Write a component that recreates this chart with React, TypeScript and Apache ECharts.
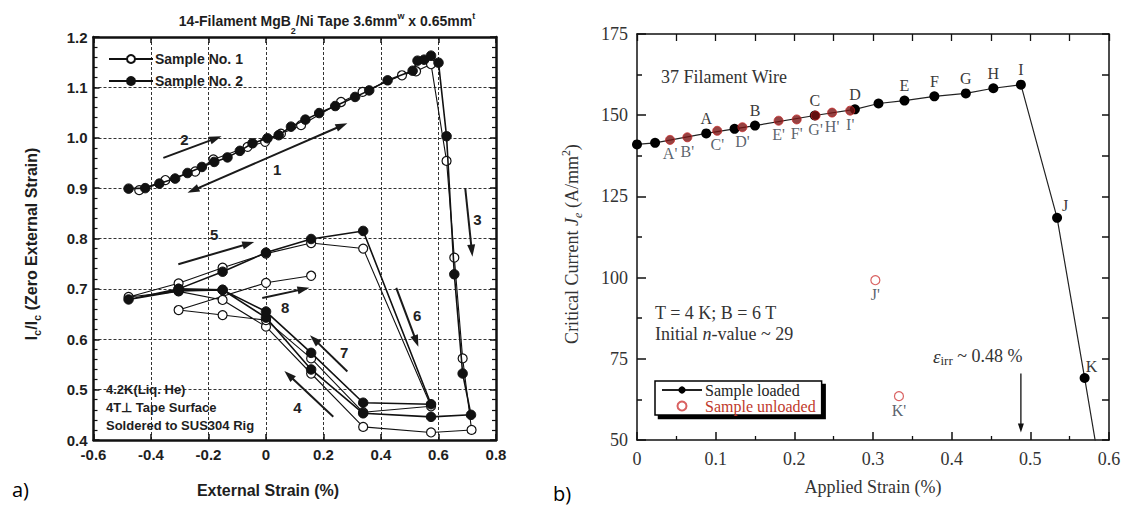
import React, { useEffect, useRef } from "react";
import * as echarts from "echarts";

// ---------- Panel a) 14-filament MgB2/Ni tape ----------
const S1_STRAIN = [
  -0.441, -0.35, -0.246, -0.183, -0.064, -0.003, 0.052, 0.122, 0.261, 0.336, 0.473, 0.522, 0.574,
  0.628, 0.655, 0.684, 0.715,
  0.574, 0.338, 0.157, 0, -0.151, -0.304, -0.478,
  -0.304, -0.151, 0, 0.157, 0.338,
  0.574,
  0.338, 0.157, 0, -0.151, -0.304,
  0, 0.157,
];
const S1_IC = [
  0.896, 0.916, 0.933, 0.957, 0.982, 0.992, 1.008, 1.025, 1.071, 1.091, 1.124, 1.132, 1.146,
  0.954, 0.762, 0.562, 0.42,
  0.415, 0.426, 0.532, 0.625, 0.678, 0.695, 0.684,
  0.711, 0.742, 0.77, 0.791, 0.78,
  0.467,
  0.455, 0.562, 0.638, 0.648, 0.658,
  0.712, 0.726,
];
const S2_STRAIN = [
  -0.478, -0.42, -0.371, -0.316, -0.273, -0.223, -0.18, -0.134, -0.091, -0.047, 0.005, 0.044, 0.087,
  0.137, 0.185, 0.241, 0.31, 0.359, 0.423, 0.51, 0.527, 0.55, 0.574, 0.6,
  0.628, 0.655, 0.684, 0.713,
  0.574, 0.338, 0.157, 0, -0.151, -0.304, -0.478,
  -0.304, -0.151, 0, 0.157, 0.338,
  0.574,
  0.338, 0.157, 0, -0.151, -0.304,
];
const S2_IC = [
  0.899, 0.9, 0.909, 0.919, 0.93, 0.942, 0.952, 0.961, 0.974, 0.989, 0.999, 1.005, 1.022,
  1.036, 1.049, 1.063, 1.081, 1.094, 1.114, 1.133, 1.153, 1.155, 1.163, 1.149,
  1.003, 0.729, 0.532, 0.45,
  0.446, 0.453, 0.54, 0.643, 0.698, 0.696, 0.679,
  0.7, 0.734, 0.772, 0.799, 0.815,
  0.471,
  0.474, 0.573, 0.655, 0.698, 0.7,
];

// ---------- Panel b) 37 filament wire ----------
const B_LOADED_STRAIN = [0, 0.023, 0.088, 0.124, 0.15, 0.226, 0.277, 0.307, 0.34, 0.378, 0.418, 0.453, 0.488, 0.534, 0.569, 0.59];
const B_LOADED_JE = [141.0, 141.5, 144.4, 145.8, 146.8, 149.9, 151.8, 153.6, 154.5, 155.8, 156.7, 158.3, 159.4, 118.4, 69.1, 39];
const B_LOADED_LABELS = ["", "", "A", "", "B", "C", "D", "", "E", "F", "G", "H", "I", "J", "K", ""];
const B_UNLOADED_STRAIN = [0.042, 0.064, 0.102, 0.134, 0.18, 0.203, 0.227, 0.248, 0.271, 0.303, 0.333];
const B_UNLOADED_JE = [142.4, 143.2, 145.2, 146.3, 148.3, 148.7, 149.9, 150.8, 151.4, 99.2, 63.5];
const B_UNLOADED_LABELS = ["A'", "B'", "C'", "D'", "E'", "F'", "G'", "H'", "I'", "J'", "K'"];

// annotation arrows in panel a (data coordinates)
const A_ARROWS = [
  { from: [-0.357, 0.96], to: [-0.155, 1.003], both: false },
  { from: [-0.273, 0.891], to: [0.283, 1.029], both: true },
  { from: [0.693, 0.9], to: [0.718, 0.764], both: false },
  { from: [-0.305, 0.749], to: [-0.041, 0.793], both: false },
  { from: [-0.013, 0.682], to: [0.151, 0.702], both: false },
  { from: [0.453, 0.702], to: [0.53, 0.585], both: false },
  { from: [0.283, 0.536], to: [0.153, 0.608], both: false },
  { from: [0.234, 0.446], to: [0.064, 0.537], both: false },
];
const A_ARROW_LABELS = [
  { t: "2", at: [-0.284, 0.997] },
  { t: "1", at: [0.039, 0.936] },
  { t: "3", at: [0.735, 0.838] },
  { t: "5", at: [-0.18, 0.807] },
  { t: "8", at: [0.067, 0.664] },
  { t: "6", at: [0.526, 0.648] },
  { t: "7", at: [0.272, 0.573] },
  { t: "4", at: [0.109, 0.465] },
];

const SANS = "Liberation Sans, Arial, sans-serif";
const SERIF = "Liberation Serif, Times New Roman, serif";
const INK = "#1e1e1e";

function zip(xs: number[], ys: number[]) {
  return xs.map((x, i) => [x, ys[i]]);
}

function arrow(s: number[], e: number[], lw: number, L: number, W: number, color: string, both: boolean) {
  const dx = e[0] - s[0], dy = e[1] - s[1];
  const len = Math.hypot(dx, dy);
  const ux = dx / len, uy = dy / len;
  const nx = -uy, ny = ux;
  const head = (tip: number[], dirx: number, diry: number) => {
    const bx = tip[0] - dirx * L, by = tip[1] - diry * L;
    return {
      type: "polygon",
      silent: true,
      shape: { points: [[tip[0], tip[1]], [bx + (nx * W) / 2, by + (ny * W) / 2], [bx - (nx * W) / 2, by - (ny * W) / 2]] },
      style: { fill: color },
    };
  };
  const a = both ? [s[0] + ux * L * 0.8, s[1] + uy * L * 0.8] : s;
  const b = [e[0] - ux * L * 0.8, e[1] - uy * L * 0.8];
  const out: any[] = [
    { type: "line", silent: true, shape: { x1: a[0], y1: a[1], x2: b[0], y2: b[1] }, style: { stroke: color, lineWidth: lw } },
    head(e, ux, uy),
  ];
  if (both) out.push(head(s, -ux, -uy));
  return out;
}

function buildOption(): any {
  const axA = {
    axisLine: { show: true, onZero: false, lineStyle: { color: "#111", width: 2.5 } },
    axisTick: { show: true, inside: true, length: 6, lineStyle: { color: "#111", width: 1.5 } },
  };
  const dashed = { show: true, lineStyle: { color: "#333", width: 1, type: [3, 2] } };
  const labA = { fontFamily: SANS, fontWeight: "bold", fontSize: 15, color: INK };
  const axB = {
    axisLine: { show: true, onZero: false, lineStyle: { color: "#111", width: 1.5 } },
    axisTick: { show: true, inside: true, length: 8, lineStyle: { color: "#111", width: 1.5 } },
    splitLine: { show: false },
  };
  const labB = { fontFamily: SERIF, fontSize: 18, color: "#333" };

  return {
    animation: false,
    backgroundColor: "#fff",
    grid: [
      { left: 93.5, top: 37, width: 402.5, height: 403, containLabel: false },
      { left: 637, top: 34, width: 472, height: 406, containLabel: false },
    ],
    xAxis: [
      {
        gridIndex: 0, type: "value", position: "bottom", min: -0.6, max: 0.8, interval: 0.2, ...axA,
        splitLine: dashed,
        axisLabel: { ...labA, margin: 7, formatter: (v: number) => (Math.abs(v) < 1e-9 ? "0" : v.toFixed(1)) },
      },
      {
        gridIndex: 0, type: "value", position: "top", min: -0.6, max: 0.8, interval: 0.2, ...axA,
        splitLine: { show: false }, axisLabel: { show: false },
      },
      {
        gridIndex: 1, type: "value", position: "bottom", min: 0, max: 0.6, interval: 0.1, ...axB,
        minorTick: { show: true, splitNumber: 2, length: 4, lineStyle: { color: "#111", width: 1.3 } },
        minorSplitLine: { show: false },
        axisLabel: { ...labB, margin: 10, formatter: (v: number) => (v === 0 ? "0" : v.toFixed(1)) },
      },
      {
        gridIndex: 1, type: "value", position: "top", min: 0, max: 0.6, interval: 0.05, ...axB,
        axisTick: { show: true, inside: true, length: 7, lineStyle: { color: "#111", width: 1.3 } },
        axisLabel: { show: false },
      },
    ],
    yAxis: [
      {
        gridIndex: 0, type: "value", position: "left", min: 0.4, max: 1.2, interval: 0.1, ...axA,
        minorTick: { show: true, splitNumber: 5, length: 4, lineStyle: { color: "#111", width: 1.2 } },
        minorSplitLine: { show: false },
        splitLine: dashed,
        axisLabel: { ...labA, margin: 6, formatter: (v: number) => v.toFixed(1) },
      },
      {
        gridIndex: 0, type: "value", position: "right", min: 0.4, max: 1.2, interval: 0.1, ...axA,
        minorTick: { show: true, splitNumber: 5, length: 4, lineStyle: { color: "#111", width: 1.2 } },
        minorSplitLine: { show: false },
        splitLine: { show: false }, axisLabel: { show: false },
      },
      {
        gridIndex: 1, type: "value", position: "left", min: 50, max: 175, interval: 25, ...axB,
        axisTick: { show: true, inside: true, length: 9, lineStyle: { color: "#111", width: 1.5 } },
        minorTick: { show: true, splitNumber: 2, length: 5, lineStyle: { color: "#111", width: 1.5 } },
        minorSplitLine: { show: false },
        axisLabel: { ...labB, margin: 9 },
      },
      {
        gridIndex: 1, type: "value", position: "right", min: 50, max: 175, interval: 12.5, ...axB,
        axisTick: { show: true, inside: true, length: 7, lineStyle: { color: "#111", width: 1.5 } },
        axisLabel: { show: false },
      },
    ],
    legend: [
      {
        data: ["Sample No. 1", "Sample No. 2"],
        orient: "vertical", left: 108, top: 52, padding: 0, itemGap: 8,
        itemWidth: 44, itemHeight: 10,
        textStyle: { fontFamily: SANS, fontWeight: "bold", fontSize: 14, color: INK, padding: [0, 0, 0, -3] },
        selectedMode: false,
      },
      {
        data: [{ name: "Sample loaded" }, { name: "Sample unloaded", textStyle: { color: "#c0392b" } }],
        orient: "vertical", left: 655, top: 381, padding: [1, 6, 1, 6], itemGap: 0,
        itemWidth: 40, itemHeight: 9,
        backgroundColor: "#fff", borderColor: "#000", borderWidth: 1.5,
        textStyle: { fontFamily: SERIF, fontSize: 16, color: "#222", padding: [0, 0, 0, -2] },
        selectedMode: false,
      },
    ],
    series: [
      {
        name: "Sample No. 1", type: "line", xAxisIndex: 0, yAxisIndex: 0,
        data: zip(S1_STRAIN, S1_IC), symbol: "circle", symbolSize: 9, showAllSymbol: true,
        itemStyle: { color: "#fff", borderColor: "#111", borderWidth: 1.2 },
        lineStyle: { color: "#111", width: 1.1 }, z: 3,
      },
      {
        name: "Sample No. 2", type: "line", xAxisIndex: 0, yAxisIndex: 0,
        data: zip(S2_STRAIN, S2_IC), symbol: "circle", symbolSize: 9.5, showAllSymbol: true,
        itemStyle: { color: "#111", borderColor: "#111", borderWidth: 1 },
        lineStyle: { color: "#111", width: 1.6 }, z: 4,
      },
      {
        name: "Sample loaded", type: "line", xAxisIndex: 2, yAxisIndex: 2,
        data: B_LOADED_STRAIN.map((x, i) => {
          const item: any = { value: [x, B_LOADED_JE[i]] };
          if (B_LOADED_LABELS[i] === "J") item.label = { offset: [8, 3] };
          if (B_LOADED_LABELS[i] === "K") item.label = { offset: [7, 4] };
          if (i === B_LOADED_STRAIN.length - 1) item.symbol = "none";
          return item;
        }),
        symbol: "circle", symbolSize: 10, showAllSymbol: true, clip: true,
        itemStyle: { color: "#000" },
        lineStyle: { color: "#222", width: 1.2 },
        label: {
          show: true, position: "top", distance: 2,
          formatter: (p: any) => B_LOADED_LABELS[p.dataIndex],
          fontFamily: SERIF, fontSize: 16, color: "#3a3a3a",
        },
        z: 3,
      },
      {
        name: "Sample unloaded", type: "scatter", xAxisIndex: 2, yAxisIndex: 2,
        data: B_UNLOADED_STRAIN.map((x, i) => {
          const item: any = { value: [x, B_UNLOADED_JE[i]] };
          if (i < 9) item.itemStyle = { color: "#7a1414", borderColor: "#c62828", borderWidth: 1 };
          return item;
        }),
        symbol: "circle", symbolSize: 9,
        itemStyle: { color: "#fff", borderColor: "#d03a3a", borderWidth: 1.2 },
        label: {
          show: true, position: "bottom", distance: 1,
          formatter: (p: any) => B_UNLOADED_LABELS[p.dataIndex],
          fontFamily: SERIF, fontSize: 16, color: "#2f3a48",
        },
        z: 5,
      },
    ],
  };
}

function legendBox(chart: any): { x: number; y: number; w: number; h: number } {
  try {
    const model = chart.getModel().getComponent("legend", 1);
    const view = chart.getViewOfComponentModel(model);
    const grp = view.group;
    const r = grp.getBoundingRect();
    if (r && r.width > 20 && r.height > 10) {
      return { x: grp.x + r.x, y: grp.y + r.y, w: r.width, h: r.height };
    }
  } catch (e) {
    /* fall through */
  }
  return { x: 655, y: 381, w: 172, h: 36 };
}

function buildGraphics(chart: any): any[] {
  const toA = (x: number, y: number) => chart.convertToPixel({ xAxisIndex: 0, yAxisIndex: 0 }, [x, y]) as number[];
  const toB = (x: number, y: number) => chart.convertToPixel({ xAxisIndex: 2, yAxisIndex: 2 }, [x, y]) as number[];
  const g: any[] = [];

  // panel a arrows and numbers
  A_ARROWS.forEach((a) => {
    g.push(...arrow(toA(a.from[0], a.from[1]), toA(a.to[0], a.to[1]), 2, 12, 8, "#1a1a1a", a.both));
  });
  A_ARROW_LABELS.forEach((l) => {
    const p = toA(l.at[0], l.at[1]);
    g.push({
      type: "text", silent: true, x: p[0], y: p[1],
      style: { text: l.t, fontFamily: SANS, fontWeight: "bold", fontSize: 15, fill: "#222", align: "center", verticalAlign: "middle" },
    });
  });

  // panel a title
  g.push({
    type: "text", silent: true, x: 327, y: 21,
    style: {
      text: "{b|14-Filament MgB}{sub|2}{b|/Ni Tape 3.6mm}{sup|w}{b| x 0.65mm}{sup|t}",
      align: "center", verticalAlign: "middle",
      rich: {
        b: { fontFamily: SANS, fontWeight: "bold", fontSize: 14, fill: INK, lineHeight: 20 },
        sub: { fontFamily: SANS, fontWeight: "bold", fontSize: 9, fill: INK, verticalAlign: "bottom", lineHeight: 20, padding: [0, 0, -4, 0] },
        sup: { fontFamily: SANS, fontWeight: "bold", fontSize: 9, fill: INK, verticalAlign: "top", lineHeight: 20 },
      },
    },
  });
  // panel a y title
  g.push({
    type: "text", silent: true, x: 31, y: 244, rotation: Math.PI / 2,
    style: {
      text: "{b|I}{sub|c}{b|/I}{sub|c}{b| (Zero External Strain)}",
      align: "center", verticalAlign: "middle",
      rich: {
        b: { fontFamily: SANS, fontWeight: "bold", fontSize: 16, fill: INK, lineHeight: 22 },
        sub: { fontFamily: SANS, fontWeight: "bold", fontSize: 11, fill: INK, verticalAlign: "bottom", lineHeight: 22 },
      },
    },
  });
  // panel a x title
  g.push({
    type: "text", silent: true, x: 268, y: 490,
    style: { text: "External Strain (%)", fontFamily: SANS, fontWeight: "bold", fontSize: 16, fill: INK, align: "center", verticalAlign: "middle" },
  });
  // conditions text
  ["4.2K(Liq. He)", "4T\u22a5 Tape Surface", "Soldered to SUS304 Rig"].forEach((t, i) => {
    g.push({
      type: "text", silent: true, x: 106, y: 389 + i * 18,
      style: { text: t, fontFamily: SANS, fontWeight: "bold", fontSize: 13, fill: INK, align: "left", verticalAlign: "middle" },
    });
  });
  // panel letters
  g.push({ type: "text", silent: true, x: 12, y: 489, style: { text: "a)", fontFamily: "Open Sans, sans-serif", fontSize: 20, fill: "#000", verticalAlign: "middle" } });
  g.push({ type: "text", silent: true, x: 553, y: 493, style: { text: "b)", fontFamily: "Open Sans, sans-serif", fontSize: 20, fill: "#000", verticalAlign: "middle" } });

  // legend b hard shadow (drawn under the legend box)
  const lb = legendBox(chart);
  g.push({ type: "rect", silent: true, z: -1, shape: { x: lb.x + 3.5, y: lb.y + 3.5, width: lb.w, height: lb.h }, style: { fill: "#000" } });

  // panel b texts
  g.push({ type: "text", silent: true, x: 661, y: 77, style: { text: "37 Filament Wire", fontFamily: SERIF, fontSize: 18, fill: "#333", verticalAlign: "middle" } });
  g.push({ type: "text", silent: true, x: 655, y: 313, style: { text: "T = 4 K; B = 6 T", fontFamily: SERIF, fontSize: 18, fill: "#333", verticalAlign: "middle" } });
  g.push({
    type: "text", silent: true, x: 655, y: 334,
    style: {
      text: "{n|Initial }{i|n}{n|-value ~ 29}", verticalAlign: "middle",
      rich: { n: { fontFamily: SERIF, fontSize: 18, fill: "#333" }, i: { fontFamily: SERIF, fontSize: 18, fontStyle: "italic", fill: "#333" } },
    },
  });
  g.push({
    type: "text", silent: true, x: 933, y: 356,
    style: {
      text: "{i|\u03b5}{sub|irr}{n| ~ 0.48 %}", verticalAlign: "middle",
      rich: {
        n: { fontFamily: SERIF, fontSize: 18, fill: "#333", lineHeight: 22 },
        i: { fontFamily: SERIF, fontSize: 19, fontStyle: "italic", fill: "#333", lineHeight: 22 },
        sub: { fontFamily: SERIF, fontSize: 13, fill: "#333", verticalAlign: "bottom", lineHeight: 22 },
      },
    },
  });
  g.push(...arrow(toB(0.488, 70.5), toB(0.488, 52.3), 1.3, 9, 6, "#111", false));
  // panel b y title
  g.push({
    type: "text", silent: true, x: 572, y: 244, rotation: Math.PI / 2,
    style: {
      text: "{n|Critical Current }{i|J}{sub|e}{n| (A/mm}{sup|2}{n|)}",
      align: "center", verticalAlign: "middle",
      rich: {
        n: { fontFamily: SERIF, fontSize: 18, fill: "#333", lineHeight: 24 },
        i: { fontFamily: SERIF, fontSize: 18, fontStyle: "italic", fill: "#333", lineHeight: 24 },
        sub: { fontFamily: SERIF, fontSize: 12, fontStyle: "italic", fill: "#333", verticalAlign: "bottom", lineHeight: 24 },
        sup: { fontFamily: SERIF, fontSize: 12, fill: "#333", verticalAlign: "top", lineHeight: 24 },
      },
    },
  });
  // panel b x title
  g.push({
    type: "text", silent: true, x: 873, y: 487,
    style: { text: "Applied Strain (%)", fontFamily: SERIF, fontSize: 18, fill: "#333", align: "center", verticalAlign: "middle" },
  });
  return g;
}

export default function App() {
  const ref = useRef<HTMLDivElement>(null);
  useEffect(() => {
    const chart = echarts.init(ref.current as HTMLDivElement, null, { renderer: "svg" });
    chart.setOption(buildOption());
    chart.setOption({ graphic: buildGraphics(chart) });
    return () => chart.dispose();
  }, []);
  return (
    <div
      ref={ref}
      style={{ position: "absolute", left: 0, top: 0, width: 1126, height: 505, background: "#fff" }}
    />
  );
}
